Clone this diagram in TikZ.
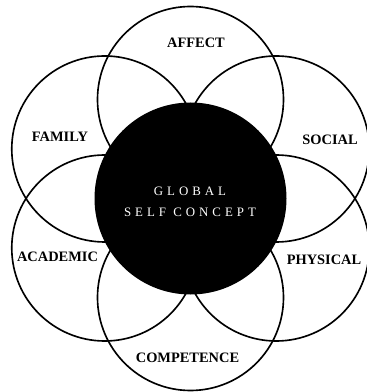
\documentclass[tikz,border=0pt]{standalone}
\usepackage{fontspec}
\setmainfont{Liberation Serif}
\newfontfamily\corefont[LetterSpace=31]{Liberation Serif}
\tikzset{
  ring/.style={circle,draw=black,line width=1.4pt,inner sep=0pt,outer sep=0pt,minimum size=5.58cm}, % domain circle
  core/.style={circle,fill=black,inner sep=0pt,minimum size=5.76cm},                              % global circle
  lab/.style={inner sep=0pt,font=\fontsize{12.3}{14}\selectfont\bfseries},
  corelab/.style={inner sep=0pt,text=white,align=center,font=\fontsize{11}{18}\selectfont\corefont},
}

\begin{document}
\begin{tikzpicture}
  \fill[white] (-5.715,-5.805) rectangle (5.295,5.955);
  \useasboundingbox (-5.715,-5.805) rectangle (5.295,5.955);
  % six domains round the core
  \foreach \ang/\nm in {90/affect,30/social,-30/physical,-90/competence,-150/academic,150/family}
    \node[ring] (\nm) at (\ang:2.97) {};
  \node[core] (global) at (0,0) {};
  \node[corelab] (globaltxt) at (-0.015,-0.1) {GLOBAL\\SELF CONCEPT};
  % labels
  \node[lab] (affecttxt) at (0.165,4.68) {AFFECT};
  \node[lab] (familytxt) at (-3.915,1.845) {FAMILY};
  \node[lab] (socialtxt) at (4.185,1.755) {SOCIAL};
  \node[lab] (academictxt) at (-3.99,-1.755) {ACADEMIC};
  \node[lab] (physicaltxt) at (4.005,-1.845) {PHYSICAL};
  \node[lab] (competencetxt) at (-0.09,-4.785) {COMPETENCE};
\end{tikzpicture}
\end{document}
